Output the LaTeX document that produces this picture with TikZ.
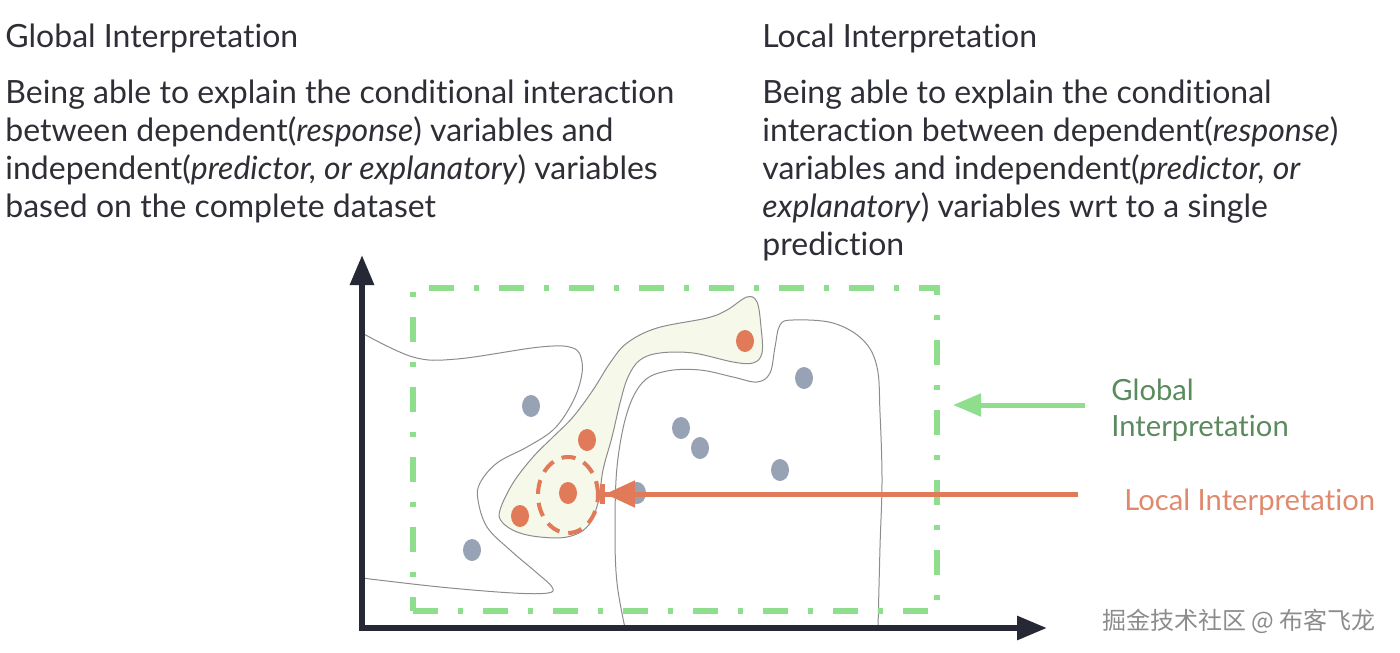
\documentclass[tikz,border=0pt]{standalone}
\usepackage{fontspec}
\setmainfont{Lato}[Ligatures={NoCommon,NoRare}]
\newfontfamily\cjkfont{Noto Sans CJK SC}
\usetikzlibrary{arrows.meta, shapes.geometric}

\definecolor{axisnavy}{HTML}{272835}
\definecolor{boxgreen}{HTML}{8EDE8E}
\definecolor{localorange}{HTML}{E07A58}
\definecolor{dotgray}{HTML}{97A3B4}
\definecolor{dotorange}{HTML}{E07A58}
\definecolor{blobfill}{HTML}{F6F8E9}
\definecolor{curvegray}{HTML}{8C8C8C}
\definecolor{textdark}{HTML}{2E2E36}
\definecolor{labelgreen}{HTML}{5A8A5E}
\definecolor{labelorange}{HTML}{DF8A6C}

\begin{document}
\begin{tikzpicture}[x=0.5pt, y=-0.5pt,
    txt/.style={font=\fontsize{16}{19}\selectfont, text=textdark, inner sep=0pt, align=left},
    sidelabel/.style={font=\fontsize{14.6}{18}\selectfont, inner sep=0pt, align=left},
    curve/.style={curvegray, line width=0.5pt},
    axisline/.style={axisnavy, line width=3pt, -{Triangle[length=15pt, width=11.5pt]}},
    globalframe/.style={draw=boxgreen, line width=3pt, inner sep=0pt,
        dash pattern=on 12.5pt off 10pt on 2.5pt off 10pt},
    probering/.style={draw=localorange, line width=2pt, ellipse, inner sep=0pt,
        dash pattern=on 7pt off 4.5pt},
    greenarrow/.style={boxgreen, line width=2.5pt, -{Triangle[length=14pt, width=11pt]}},
    orangearrow/.style={localorange, line width=2.5pt,
        -{Triangle[length=15pt, width=13pt]Bar[width=10pt]}}]
    \useasboundingbox (0,0) rectangle (1400,652);

    % 1. Texts at the top
    \node[txt, anchor=base west] (globtitle) at (5,48) {Global Interpretation};
    \node[txt, anchor=north west] (globtext) at (5,80)
        {Being able to explain the conditional interaction\\
         between dependent(\textit{response}) variables and\\
         independent(\textit{predictor, or explanatory}) variables\\
         based on the complete dataset};
    \node[txt, anchor=base west] (loctitle) at (762,48) {Local Interpretation};
    \node[txt, anchor=north west] (loctext) at (762,80)
        {Being able to explain the conditional\\
         interaction between dependent(\textit{response})\\
         variables and independent(\textit{predictor, or}\\
         \textit{explanatory}) variables wrt to a single\\
         prediction};

    % 2. Shaded region (class boundary of the orange points)
    \fill[blobfill] plot[smooth cycle, tension=0.6] coordinates {
        (567,537) (540,537) (517,532) (502,522) (500,510) (513,483) (533,457)
        (553,437) (573,417) (593,390) (610,363) (627,343) (657,328) (707,318)
        (727,310) (747,297) (757,302) (761,327) (762,353) (753,363) (733,362)
        (693,353) (660,353) (640,360) (628,377) (620,403) (612,437) (603,470)
        (598,503) (587,527)};
    \draw[curve] plot[smooth cycle, tension=0.6] coordinates {
        (567,537) (540,537) (517,532) (502,522) (500,510) (513,483) (533,457)
        (553,437) (573,417) (593,390) (610,363) (627,343) (657,328) (707,318)
        (727,310) (747,297) (757,302) (761,327) (762,353) (753,363) (733,362)
        (693,353) (660,353) (640,360) (628,377) (620,403) (612,437) (603,470)
        (598,503) (587,527)};

    % 3. Other boundary curves
    \draw[curve] plot[smooth, tension=0.6] coordinates {
        (362,333) (413,357) (457,359) (540,347) (573,348) (582,362) (580,383)
        (570,407) (553,430) (527,447) (497,463) (480,483) (478,500) (487,527)
        (510,550) (537,573) (552,587) (548,593) (513,593) (440,587) (362,578)};
    \draw[curve] plot[smooth, tension=0.6] coordinates {
        (625,628) (617,583) (615,533) (617,467) (627,413) (643,382) (667,371)
        (700,370) (733,377) (757,382) (770,373) (775,347) (780,325) (793,320)
        (833,323) (863,340) (877,367) (880,413) (882,480) (880,547) (878,628)};

    % 4. Data points
    \fill[dotorange] (745,341) ellipse (9 and 11);
    \fill[dotorange] (587,440) ellipse (9 and 11);
    \fill[dotorange] (568,493) ellipse (9 and 11);
    \fill[dotorange] (520,516) ellipse (9 and 11);
    \fill[dotgray] (531,406) ellipse (9 and 11);
    \fill[dotgray] (681,428) ellipse (9 and 11);
    \fill[dotgray] (700,448) ellipse (9 and 11);
    \fill[dotgray] (804,378) ellipse (9 and 11);
    \fill[dotgray] (780,470) ellipse (9 and 11);
    \fill[dotgray] (637,493) ellipse (9 and 11);
    \fill[dotgray] (472,550) ellipse (9 and 11);

    % 5. Global frame and local probe
    \node[globalframe, minimum width=262pt, minimum height=161.5pt] (globalbox) at (675,449.5) {};
    \node[probering, minimum width=30pt, minimum height=38pt] (probe) at (568,495) {};

    % 6. Labels on the right and their arrows
    \node[sidelabel, anchor=north west, text=labelgreen] (globlabel) at (1111,379) {Global\\Interpretation};
    \node[sidelabel, anchor=base west, text=labelorange] (loclabel) at (1124,510) {Local Interpretation};
    \coordinate (globtail) at (1085,405);
    \coordinate (localtail) at (1078,494);
    \draw[greenarrow, shorten >=6.5pt] (globtail) -- (globtail -| globalbox.east);
    \draw[orangearrow] (localtail) -- (localtail -| probe.east);

    % 7. Axes
    \coordinate (origin) at (362,628);
    \coordinate (ytip) at (362,255);
    \coordinate (xtip) at (1047,628);
    \draw[axisline] ([yshift=-1.5pt]origin) -- (ytip);
    \draw[axisline] ([xshift=-1.5pt]origin) -- (xtip);

    % 8. Watermark
    \node[anchor=base west, font=\cjkfont\fontsize{12}{12}\selectfont, text=gray!90] (mark) at (1095,629) {掘金技术社区 @ 布客飞龙};
\end{tikzpicture}
\end{document}
